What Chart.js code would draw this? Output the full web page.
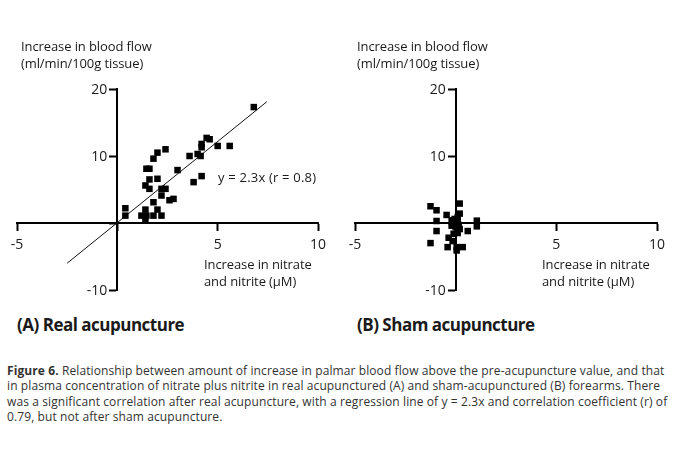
<!DOCTYPE html>
<html>
<head>
<meta charset="utf-8">
<script src="https://cdn.jsdelivr.net/npm/chart.js@4.4.1/dist/chart.umd.min.js"></script>
<style>
  html, body { margin: 0; padding: 0; background: #fff; }
  #wrap { position: relative; width: 676px; height: 449px; overflow: hidden; font-family: "Open Sans", sans-serif; color: #1a1a1a; }
  .panel { position: absolute; top: 0; width: 338px; height: 310px; }
  .lbl { position: absolute; font-size: 13px; line-height: 17px; white-space: nowrap; letter-spacing: -0.1px; }
  .ptitle { position: absolute; top: 313px; font-size: 17px; font-weight: 700; letter-spacing: -0.5px; white-space: nowrap; }
  #caption { position: absolute; left: 7px; top: 363px; font-size: 12px; line-height: 15.3px; color: #333; white-space: nowrap; letter-spacing: 0.1px; }
</style>
</head>
<body>
<div id="wrap">
  <canvas id="chartA" class="panel" style="left:0" width="338" height="310"></canvas>
  <canvas id="chartB" class="panel" style="left:338px" width="338" height="310"></canvas>

  <div class="lbl" style="left:21px;top:38px">Increase in blood flow<br>(ml/min/100g tissue)</div>
  <div class="lbl" style="left:204px;top:256px">Increase in nitrate<br>and nitrite (μM)</div>
  <div class="lbl" style="left:218px;top:169px;letter-spacing:0.2px">y = 2.3x (r = 0.8)</div>
  <div class="ptitle" style="left:17px">(A) Real acupuncture</div>

  <div class="lbl" style="left:357px;top:38px">Increase in blood flow<br>(ml/min/100g tissue)</div>
  <div class="lbl" style="left:542px;top:256px">Increase in nitrate<br>and nitrite (μM)</div>
  <div class="ptitle" style="left:357px">(B) Sham acupuncture</div>

  <div id="caption"><b>Figure 6.</b> Relationship between amount of increase in palmar blood flow above the pre-acupuncture value, and that<br>in plasma concentration of nitrate plus nitrite in real acupunctured (A) and sham-acupunctured (B) forearms. There<br>was a significant correlation after real acupuncture, with a regression line of y = 2.3x and correlation coefficient (r) of<br>0.79, but not after sham acupuncture.</div>
</div>

<script>
// tick values
const xTicks = [-5, 0, 5, 10];
const yTicks = [-10, 0, 10, 20];

// (A) real acupuncture: nitrate+nitrite increase (uM) vs blood flow increase
const realX = [6.8, 4.45, 4.6, 4.2, 4.2, 5.0, 5.6, 3.6, 4.0, 4.15, 3.0, 3.8, 4.2,
               2.4, 2.0, 1.8, 1.45, 1.6, 1.6, 2.0, 1.4, 1.6, 2.2, 2.4, 2.2, 2.6, 2.8,
               1.8, 2.0, 1.4, 0.4, 0.4, 1.2, 1.45, 1.8, 2.2, 1.4];
const realY = [17.3, 12.7, 12.5, 11.8, 11.3, 11.5, 11.5, 10.0, 10.3, 10.0, 7.9, 6.1, 7.0,
               11.0, 10.5, 9.6, 8.1, 8.1, 6.5, 6.6, 5.6, 5.1, 5.1, 5.1, 4.1, 3.4, 3.6,
               3.1, 2.0, 2.0, 2.2, 1.1, 1.1, 1.1, 1.1, 1.1, 0.4];

// regression line as drawn
const regX = [-2.5, 7.45];
const regY = [-6.0, 18.1];

// (B) sham acupuncture
const shamX = [-1.25, -0.95, -0.95, -0.95, -1.25, -0.45, 0.2, 0.2, 0.1, -0.2, -0.1, 0.1, 0.0, 0.2,
               0.6, 1.05, 1.05, -0.35, -0.15, -0.4, 0.05, 0.35, 0.05, -0.1, 0.1, -0.05, 0.15, -0.2];
const shamY = [2.5, 1.9, 0.3, -1.2, -3.0, 1.2, 2.9, 1.4, 0.9, 0.4, -0.1, 0.2, -0.6, -0.9,
               -1.2, 0.35, -0.5, -2.2, -2.7, -3.6, -3.6, -3.6, -4.1, -1.6, -1.5, 0.6, -0.3, -0.4];

const toPts = (xs, ys) => xs.map((x, i) => ({ x: x, y: ys[i] }));
const tickFont = { family: 'Open Sans', size: 14 };

// y tick labels sit left of the tick marks (Chart.js puts them on the axis line for centred axes)
const yLabels = {
  id: 'yLabels',
  afterDraw(chart) {
    const { ctx, scales: { x, y } } = chart;
    const ax = x.getPixelForValue(0);
    ctx.save();
    ctx.fillStyle = '#1a1a1a';
    ctx.font = '14px "Open Sans"';
    ctx.textAlign = 'right';
    ctx.textBaseline = 'middle';
    yTicks.forEach(v => {
      if (v !== 0) ctx.fillText(String(v), ax - 10, y.getPixelForValue(v) + 1);
    });
    ctx.restore();
  }
};

function makeChart(id, xs, ys, line, pad) {
  const datasets = [{
    data: toPts(xs, ys),
    pointStyle: 'rect',
    pointRadius: 4.6,
    pointBorderWidth: 0,
    backgroundColor: '#000',
    borderColor: '#000'
  }];
  if (line) {
    datasets.push({
      data: toPts(line[0], line[1]),
      showLine: true,
      pointRadius: 0,
      borderWidth: 1,
      borderColor: '#111'
    });
  }
  return new Chart(document.getElementById(id), {
    type: 'scatter',
    data: { datasets: datasets },
    plugins: [yLabels],
    options: {
      responsive: false,
      animation: false,
      devicePixelRatio: 1,
      events: [],
      layout: { padding: pad },
      plugins: { legend: { display: false }, tooltip: { enabled: false } },
      scales: {
        x: {
          type: 'linear',
          min: xTicks[0], max: xTicks[xTicks.length - 1],
          position: { y: 0 },
          afterBuildTicks: s => { s.ticks = xTicks.map(v => ({ value: v })); },
          border: { display: true, color: '#000', width: 2 },
          grid: { display: true, drawOnChartArea: false, drawTicks: true, tickLength: 7, tickWidth: 2, tickColor: '#000' },
          ticks: { autoSkip: false, maxRotation: 0, padding: 7, color: '#1a1a1a', font: tickFont,
                   callback: v => v === 0 ? '' : v }
        },
        y: {
          type: 'linear',
          min: yTicks[0], max: yTicks[yTicks.length - 1],
          position: { x: 0 },
          afterBuildTicks: s => { s.ticks = yTicks.map(v => ({ value: v })); },
          border: { display: true, color: '#000', width: 2 },
          grid: { display: true, drawOnChartArea: false, drawTicks: true, tickLength: 7, tickWidth: 2, tickColor: '#000' },
          ticks: { display: false }
        }
      }
    }
  });
}

makeChart('chartA', realX, realY, [regX, regY], { left: 17, right: 20, top: 89, bottom: 20 });
makeChart('chartB', shamX, shamY, null, { left: 17, right: 19, top: 89, bottom: 20 });
</script>
</body>
</html>
